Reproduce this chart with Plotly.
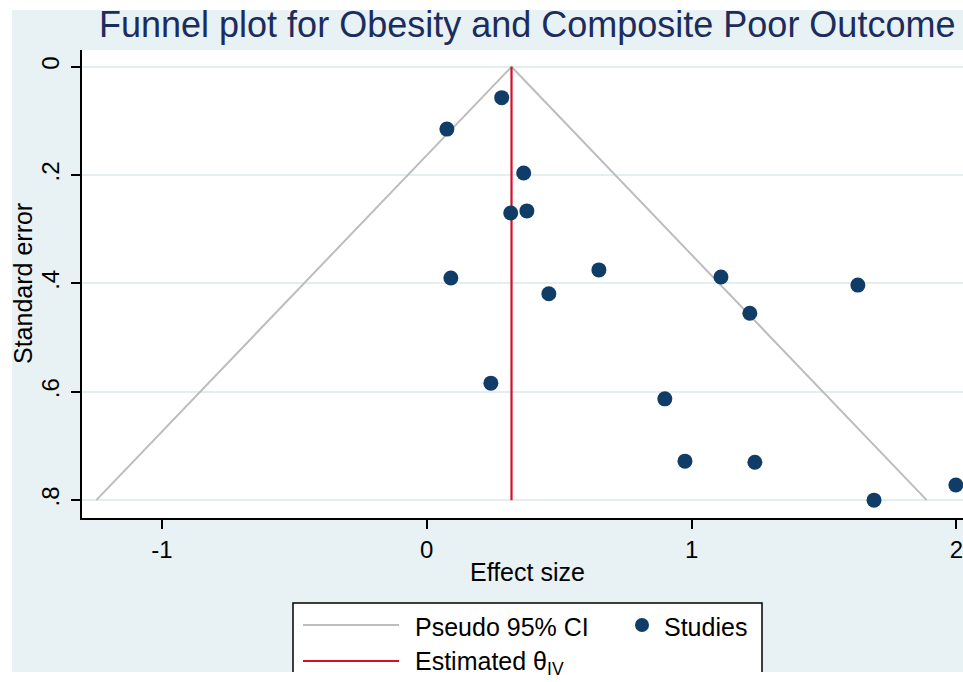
import plotly.graph_objects as go

# ---- data ----
effect_size = [0.283, 0.076, 0.366, 0.317, 0.378, 0.091, 0.650, 0.461, 1.111,
               1.628, 1.220, 0.242, 0.899, 0.975, 1.239, 1.689, 1.998]
std_error = [0.057, 0.115, 0.196, 0.270, 0.266, 0.390, 0.375, 0.419, 0.388,
             0.403, 0.455, 0.584, 0.613, 0.728, 0.730, 0.800, 0.772]
theta_iv = 0.32
ci_x = [-1.248, 0.32, 1.888]
ci_se = [0.8, 0.0, 0.8]
theta_se = [0.0, 0.8]
x_ticks = [-1, 0, 1, 2]
x_ticklabels = ["-1", "0", "1", "2"]
y_ticks = [0, 0.2, 0.4, 0.6, 0.8]
y_ticklabels = ["0", ".2", ".4", ".6", ".8"]

W, H = 963, 682
ML, MR, MT, MB = 82, 0, 50, 164
PW, PH = W - ML - MR, H - MT - MB

def px(x):
    return (x - ML) / PW

def py(y):
    return (H - MB - y) / PH

BG = "#E8F1F3"
NAVY = "#0F3D68"
RED = "#D2102C"
GREY = "#BDBDBD"
FONT = "Liberation Sans, Arial, sans-serif"

fig = go.Figure()
fig.add_trace(go.Scatter(x=ci_x, y=ci_se, mode="lines",
                         line=dict(color=GREY, width=2), showlegend=False,
                         name="Pseudo 95% CI"))
fig.add_trace(go.Scatter(x=[theta_iv, theta_iv], y=theta_se, mode="lines",
                         line=dict(color=RED, width=2.2), showlegend=False,
                         name="Estimated θIV"))
fig.add_trace(go.Scatter(x=effect_size, y=std_error, mode="markers",
                         marker=dict(color=NAVY, size=15), showlegend=False,
                         name="Studies", cliponaxis=True))

shapes = []
annotations = []

# custom legend box
shapes.append(dict(type="rect", xref="paper", yref="paper",
                   x0=px(293), x1=px(762), y0=py(700), y1=py(603),
                   line=dict(color="black", width=1.5), fillcolor="white",
                   layer="above"))
shapes.append(dict(type="line", xref="paper", yref="paper",
                   x0=px(303), x1=px(399), y0=py(625), y1=py(625),
                   line=dict(color=GREY, width=2), layer="above"))
shapes.append(dict(type="line", xref="paper", yref="paper",
                   x0=px(303), x1=px(399), y0=py(661), y1=py(661),
                   line=dict(color=RED, width=2.2), layer="above"))
shapes.append(dict(type="circle", xref="paper", yref="paper",
                   x0=px(635), x1=px(649), y0=py(632), y1=py(618),
                   line=dict(color=NAVY, width=0), fillcolor=NAVY,
                   layer="above"))
annotations.append(dict(text="Pseudo 95% CI", xref="paper", yref="paper",
                        x=px(413), y=py(627), xanchor="left", yanchor="middle",
                        showarrow=False, font=dict(size=25, color="black", family=FONT)))
annotations.append(dict(text="Studies", xref="paper", yref="paper",
                        x=px(662), y=py(627), xanchor="left", yanchor="middle",
                        showarrow=False, font=dict(size=25, color="black", family=FONT)))
annotations.append(dict(text="Estimated θ<sub>IV</sub>", xref="paper", yref="paper",
                        x=px(413), y=py(663), xanchor="left", yanchor="middle",
                        showarrow=False, font=dict(size=25, color="black", family=FONT)))

# white outer border (top, left, bottom)
for x0, x1, y0, y1 in [(0, W, 0, 10), (0, 12, 0, H), (0, W, 672, H)]:
    shapes.append(dict(type="rect", xref="paper", yref="paper",
                       x0=px(x0), x1=px(x1), y0=py(y1), y1=py(y0),
                       line=dict(width=0), fillcolor="white", layer="above"))

# titles
annotations.append(dict(text="Funnel plot for Obesity and Composite Poor Outcome",
                        xref="paper", yref="paper", x=px(527), y=py(25),
                        xanchor="center", yanchor="middle", showarrow=False,
                        font=dict(size=36, color="#1B2C5E", family=FONT)))
annotations.append(dict(text="Effect size", xref="paper", yref="paper",
                        x=px(527), y=py(572), xanchor="center", yanchor="middle",
                        showarrow=False, font=dict(size=25, color="black", family=FONT)))
annotations.append(dict(text="Standard error", xref="paper", yref="paper",
                        x=px(23), y=py(284), xanchor="center", yanchor="middle",
                        textangle=-90, showarrow=False,
                        font=dict(size=25, color="black", family=FONT)))

fig.update_layout(
    width=W, height=H,
    margin=dict(l=ML, r=MR, t=MT, b=MB, pad=0),
    paper_bgcolor=BG, plot_bgcolor="white",
    font=dict(family=FONT, color="black"),
    shapes=shapes, annotations=annotations,
    showlegend=False,
)
fig.update_xaxes(range=[-1.302, 2.025], tickvals=x_ticks, ticktext=x_ticklabels,
                 showgrid=False, zeroline=False, showline=True,
                 linecolor="black", linewidth=1.5, ticks="outside", ticklen=9,
                 tickwidth=1.5, tickcolor="black", automargin=False,
                 ticklabeloverflow="allow",
                 tickfont=dict(size=24, color="black", family=FONT))
fig.update_yaxes(range=[0.833, -0.031], tickvals=y_ticks, ticktext=y_ticklabels,
                 showgrid=True, gridcolor="#E4EEF1", gridwidth=2,
                 zeroline=False, showline=True,
                 linecolor="black", linewidth=1.5, ticks="outside", ticklen=9,
                 tickwidth=1.5, tickcolor="black", automargin=False,
                 tickangle=-90, ticklabelstandoff=3,
                 tickfont=dict(size=24, color="black", family=FONT))

fig.write_html("out.html")
